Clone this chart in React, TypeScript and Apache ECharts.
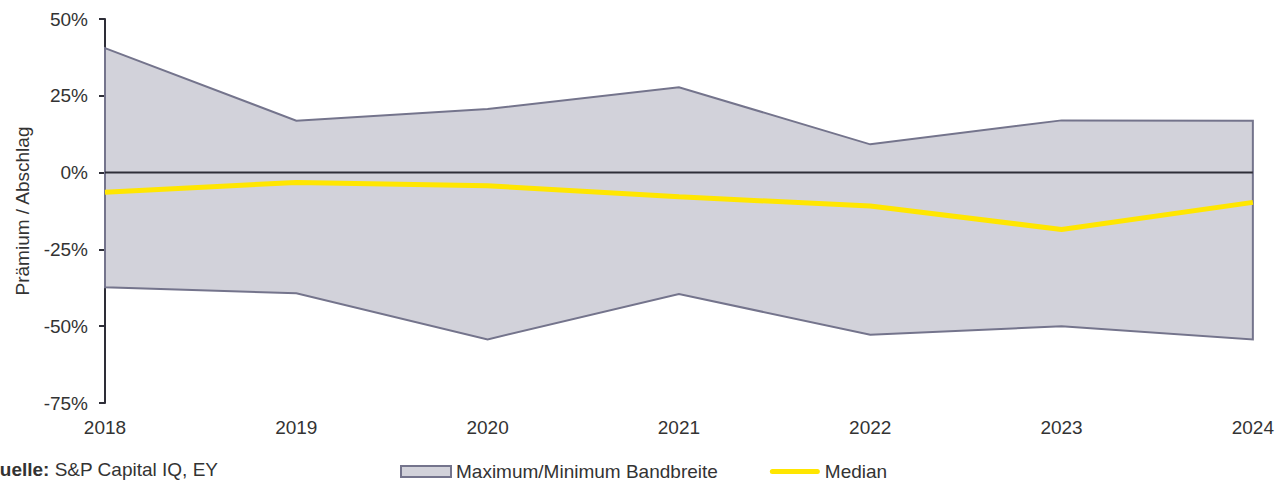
import React, { useEffect, useRef } from "react";
import * as echarts from "echarts";

const years = ["2018", "2019", "2020", "2021", "2022", "2023", "2024"];
const maxValues = [40.5, 16.9, 20.7, 27.8, 9.2, 17.0, 16.9];
const minValues = [-37.3, -39.3, -54.3, -39.5, -52.8, -50.0, -54.3];
const medianValues = [-6.4, -3.2, -4.3, -7.9, -10.9, -18.5, -9.7];
const zeroValues = [0, 0, 0, 0, 0, 0, 0];
const yTicks = { min: -75, max: 50, interval: 25 };

const BAND = "Maximum/Minimum Bandbreite";
const MEDIAN = "Median";
const FONT = "'Liberation Sans', Arial, sans-serif";
const TEXT = "#333333";
const DARK = "#2e2e38";
const BAND_FILL = "#d2d2da";
const BAND_STROKE = "#74748c";
const YELLOW = "#ffe600";

export default function App() {
  const ref = useRef<HTMLDivElement>(null);
  useEffect(() => {
    document.body.style.margin = "0";
    const chart = echarts.init(ref.current!, null, { renderer: "svg" });
    chart.setOption({
      animation: false,
      textStyle: { fontFamily: FONT },
      grid: { left: 105, right: 23, top: 19, bottom: 78 },
      xAxis: {
        type: "category",
        data: years,
        boundaryGap: false,
        axisLine: { show: false },
        axisTick: { show: false },
        axisLabel: { color: TEXT, fontSize: 19, fontFamily: FONT, margin: 15 },
      },
      yAxis: {
        type: "value",
        min: yTicks.min,
        max: yTicks.max,
        interval: yTicks.interval,
        name: "Prämium / Abschlag",
        nameLocation: "middle",
        nameGap: 73,
        nameTextStyle: { color: TEXT, fontSize: 19, fontFamily: FONT },
        axisLine: { show: true, lineStyle: { color: DARK, width: 2 } },
        axisTick: { show: true, length: 6, lineStyle: { color: DARK, width: 2 } },
        axisLabel: { color: TEXT, fontSize: 19, fontFamily: FONT, margin: 17, formatter: (v: number) => `${v}%` },
        splitLine: { show: false },
      },
      legend: {
        left: 400,
        top: 462,
        padding: 0,
        itemWidth: 50,
        itemHeight: 11,
        itemGap: 52,
        textStyle: { color: TEXT, fontSize: 19, fontFamily: FONT },
        data: [
          { name: BAND, icon: "rect", itemStyle: { color: BAND_FILL, borderColor: BAND_STROKE, borderWidth: 2 } },
          {
            name: MEDIAN,
            icon: "path://M2.5,0 L47.5,0 A2.5,2.5 0 0 1 47.5,5 L2.5,5 A2.5,2.5 0 0 1 2.5,0 Z",
            itemStyle: { color: YELLOW, borderWidth: 0 },
          },
        ],
      },
      series: [
        {
          name: BAND,
          type: "custom",
          z: 2,
          encode: { x: 0, y: [1, 2] },
          data: years.map((_, i) => [i, maxValues[i], minValues[i]]),
          itemStyle: { color: BAND_FILL, borderColor: BAND_STROKE },
          renderItem: (params: any, api: any) => {
            if (params.dataIndex !== 0) return null;
            const pts: number[][] = [];
            years.forEach((_, i) => pts.push(api.coord([i, maxValues[i]])));
            for (let i = years.length - 1; i >= 0; i--) pts.push(api.coord([i, minValues[i]]));
            return {
              type: "polygon",
              shape: { points: pts },
              style: { fill: BAND_FILL, stroke: BAND_STROKE, lineWidth: 2 },
            };
          },
        },
        {
          name: "zero",
          type: "line",
          z: 3,
          data: zeroValues,
          symbol: "none",
          lineStyle: { color: DARK, width: 2 },
          silent: true,
        },
        {
          name: MEDIAN,
          type: "line",
          z: 4,
          data: medianValues,
          symbol: "none",
          itemStyle: { color: YELLOW },
          lineStyle: { color: YELLOW, width: 5 },
        },
      ],
      graphic: [
        {
          type: "text",
          left: -15,
          top: 460,
          style: {
            text: "{b|Quelle:} S&P Capital IQ, EY",
            font: `19px ${FONT}`,
            fill: TEXT,
            rich: {
              b: { fontWeight: "bold", fontSize: 19, fontFamily: FONT, fill: TEXT },
            },
          },
        },
      ],
    });
    return () => chart.dispose();
  }, []);
  return <div ref={ref} style={{ width: 1277, height: 481 }} />;
}
